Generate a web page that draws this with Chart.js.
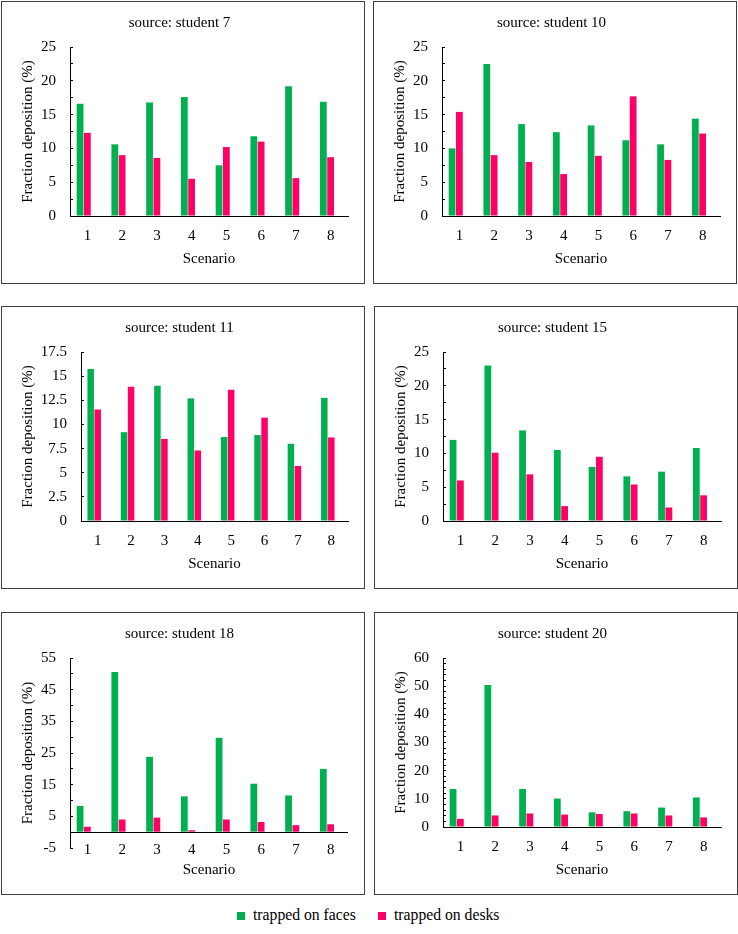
<!DOCTYPE html>
<html>
<head>
<meta charset="utf-8">
<script src="https://cdn.jsdelivr.net/npm/chart.js@4.4.1/dist/chart.umd.min.js"></script>
<style>
  body {
    margin: 0;
    background: #fff;
    width: 738px;
    height: 934px;
    position: relative;
    font-family: "Liberation Serif", "Times New Roman", serif;
  }
  .panel {
    position: absolute;
    width: 362px;
    height: 281px;
    border: 1px solid #404040;
  }
  .panel canvas {
    display: block;
  }
  .key {
    position: absolute;
    top: 912px;
    width: 8px;
    height: 8px;
  }
  .ltext {
    position: absolute;
    top: 906px;
    line-height: 18px;
    font-size: 15.7px;
    color: #000;
    white-space: nowrap;
  }
</style>
</head>
<body>

<div class="panel" style="left:1px;top:1px"><canvas id="chart7" width="362" height="281"></canvas></div>
<div class="panel" style="left:373px;top:1px"><canvas id="chart10" width="362" height="281"></canvas></div>
<div class="panel" style="left:1px;top:306px"><canvas id="chart11" width="362" height="281"></canvas></div>
<div class="panel" style="left:374px;top:306px"><canvas id="chart15" width="362" height="281"></canvas></div>
<div class="panel" style="left:1px;top:612px"><canvas id="chart18" width="362" height="281"></canvas></div>
<div class="panel" style="left:374px;top:612px"><canvas id="chart20" width="362" height="281"></canvas></div>

<span class="key" style="left:237px;background:#00B050"></span>
<span class="ltext" style="left:253px">trapped on faces</span>
<span class="key" style="left:378px;background:#FF0066"></span>
<span class="ltext" style="left:394px">trapped on desks</span>

<script>
// data
const scenarios = ["1", "2", "3", "4", "5", "6", "7", "8"];

const student7Faces = [16.6, 10.6, 16.8, 17.6, 7.5, 11.8, 19.2, 16.9];
const student7Desks = [12.3, 9.0, 8.6, 5.5, 10.2, 11.0, 5.6, 8.7];

const student10Faces = [10.0, 22.5, 13.6, 12.4, 13.4, 11.2, 10.6, 14.4];
const student10Desks = [15.4, 9.0, 8.0, 6.2, 8.9, 17.7, 8.3, 12.2];

const student11Faces = [15.75, 9.2, 14.0, 12.7, 8.7, 8.9, 8.0, 12.75];
const student11Desks = [11.55, 13.9, 8.5, 7.3, 13.6, 10.7, 5.7, 8.65];

const student15Faces = [12.0, 23.0, 13.4, 10.5, 8.0, 6.6, 7.3, 10.8];
const student15Desks = [6.0, 10.1, 6.9, 2.2, 9.5, 5.4, 2.0, 3.8];

const student18Faces = [8.3, 50.6, 23.8, 11.3, 29.8, 15.3, 11.6, 20.0];
const student18Desks = [1.7, 4.0, 4.6, 0.6, 4.0, 3.2, 2.2, 2.5];

const student20Faces = [13.5, 50.4, 13.5, 10.1, 5.2, 5.6, 6.9, 10.5];
const student20Desks = [2.9, 4.1, 4.8, 4.4, 4.6, 4.8, 4.1, 3.4];

// empty third slot, so the pair sits left of the category centre like the original
const spacer = [null, null, null, null, null, null, null, null];

const green = "#00B050";
const pink = "#FF0066";
const font = { family: "'Liberation Serif', 'Times New Roman', serif", size: 15, weight: "normal" };

function makeChart(id, title, faces, desks, axis) {
  const ctx = document.getElementById(id);

  return new Chart(ctx, {
    type: "bar",
    data: {
      labels: scenarios,
      datasets: [
        { label: "trapped on faces", data: faces, backgroundColor: green },
        { label: "trapped on desks", data: desks, backgroundColor: pink },
        { label: "", data: spacer },
      ],
    },
    options: {
      responsive: false,
      animation: false,
      layout: { padding: { left: 9, right: 16, top: 0, bottom: 10 } },
      datasets: { bar: { categoryPercentage: 0.63, barPercentage: 0.93 } },
      plugins: {
        legend: { display: false },
        tooltip: { enabled: false },
        title: {
          display: true,
          text: title,
          color: "#000",
          font: font,
          padding: { top: 12, bottom: 15 },
        },
      },
      scales: {
        x: {
          grid: { display: false, drawTicks: false },
          border: { display: !axis.zeroLine, color: "#000", width: 1 },
          ticks: {
            color: "#000",
            font: font,
            padding: axis.labelPad,
            mirror: !!axis.zeroLine,
            maxRotation: 0,
          },
          title: {
            display: true,
            text: "Scenario",
            color: "#000",
            font: font,
            padding: { top: 0, bottom: 5 },
          },
          afterFit: (scale) => {
            scale.height = axis.xHeight;
          },
        },
        y: {
          min: axis.min,
          max: axis.max,
          border: { display: true, color: "#000", width: 1 },
          grid: {
            drawOnChartArea: !!axis.zeroLine,
            color: (c) => (c.tick && c.tick.value === 0 ? "#000" : "rgba(0,0,0,0)"),
            tickColor: "#000",
            tickLength: -3,
            lineWidth: 1,
          },
          ticks: {
            stepSize: axis.step,
            autoSkip: false,
            maxTicksLimit: 100,
            color: "#000",
            font: font,
            padding: 17,
            callback: (value) => {
              if ((value - axis.min) % axis.major === 0) {
                return String(value);
              }
              return "";
            },
          },
          title: {
            display: true,
            text: "Fraction deposition (%)",
            color: "#000",
            font: font,
            padding: { top: 8, bottom: 0 },
          },
          afterFit: (scale) => {
            scale.width = axis.yWidth;
          },
        },
      },
    },
  });
}

makeChart("chart7", "source: student 7", student7Faces, student7Desks,
  { min: 0, max: 25, step: 2.5, major: 5, yWidth: 59, xHeight: 57, labelPad: 11 });
makeChart("chart10", "source: student 10", student10Faces, student10Desks,
  { min: 0, max: 25, step: 2.5, major: 5, yWidth: 59, xHeight: 57, labelPad: 11 });
makeChart("chart11", "source: student 11", student11Faces, student11Desks,
  { min: 0, max: 17.5, step: 2.5, major: 2.5, yWidth: 70, xHeight: 57, labelPad: 11 });
makeChart("chart15", "source: student 15", student15Faces, student15Desks,
  { min: 0, max: 25, step: 2.5, major: 5, yWidth: 59, xHeight: 57, labelPad: 11 });
makeChart("chart18", "source: student 18", student18Faces, student18Desks,
  { min: -5, max: 55, step: 5, major: 10, yWidth: 59, xHeight: 36, labelPad: -11, zeroLine: true });
makeChart("chart20", "source: student 20", student20Faces, student20Desks,
  { min: 0, max: 60, step: 2, major: 10, yWidth: 59, xHeight: 57, labelPad: 11 });
</script>
</body>
</html>
